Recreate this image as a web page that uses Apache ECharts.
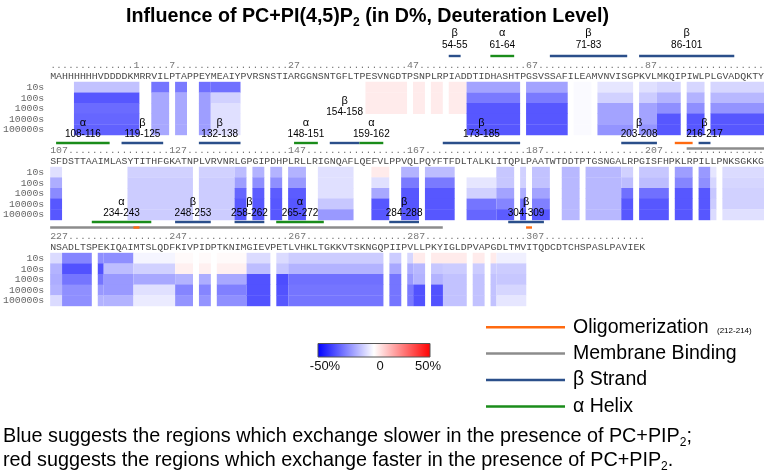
<!DOCTYPE html>
<html><head><meta charset="utf-8">
<script src="https://cdn.jsdelivr.net/npm/echarts@6/dist/echarts.min.js"></script>
<style>html,body{margin:0;padding:0;background:#fff}#c{width:767px;height:473px}</style>
</head><body><div id="c"></div>
<script>
// ---------------- DATA ----------------
const timeLabels = ['10s', '100s', '1000s', '10000s', '100000s'];
const seqRows = [
  'MAHHHHHHVDDDDKMRRVILPTAPPEYMEAIYPVRSNSTIARGGNSNTGFLTPESVNGDTPSNPLRPIADDTIDHASHTPGSVSSAFILEAMVNVISGPKVLMKQIPIWLPLGVADQKTY',
  'SFDSTTAAIMLASYTITHFGKATNPLVRVNRLGPGIPDHPLRLLRIGNQAFLQEFVLPPVQLPQYFTFDLTALKLITQPLPAATWTDDTPTGSNGALRPGISFHPKLRPILLPNKSGKKG',
  'NSADLTSPEKIQAIMTSLQDFKIVPIDPTKNIMGIEVPETLVHKLTGKKVTSKNGQPIIPVLLPKYIGLDPVAPGDLTMVITQDCDTCHSPASLPAVIEK'
];
const rowFirstResidue = [-13, 107, 227];
const rowTickResidues = [[1, 7, 27, 47, 67, 87], [107, 127, 147, 167, 187, 207], [227, 247, 267, 287, 307]];

// peptides: residue ranges (displayed numbering) and D% differences at 10s..100000s
const pepRanges = [
  [-9, 1], [4, 6], [8, 9], [12, 13], [14, 18], [40, 46], [48, 49], [51, 52], [54, 56],
  [57, 65], [67, 73], [75, 77], [79, 84], [86, 88], [89, 92], [94, 96], [98, 106],
  [107, 108], [120, 130], [132, 137], [138, 139], [141, 142], [144, 145], [147, 149],
  [152, 157], [161, 163], [166, 168], [170, 174], [177, 181], [182, 184], [186, 186],
  [188, 190], [193, 195], [197, 202], [203, 204], [206, 210], [212, 214], [216, 217],
  [218, 218], [220, 226],
  [227, 228], [229, 233], [235, 235], [236, 240], [241, 247], [248, 250], [252, 253],
  [255, 259], [260, 263], [265, 266], [267, 282], [284, 285], [287, 287], [288, 289],
  [291, 292], [293, 296], [298, 299], [301, 301], [302, 306]
];
const pepDeltas = [
  [-12, -33, -29, -30, -31], [-27, -17, -17, -17, -17], [-26, -17, -17, -17, -17], [-28, -19, -19, -19, -19],
  [-28, -9, -6, -6, -6], [4, 4, 4, null, null], [4, 4, 4, null, null], [4, 4, 4, null, null], [4, 4, 4, null, null],
  [-18, -26, -33, -33, -33], [-18, -26, -33, -33, -33], [-1, -1, -1, -1, -1], [-5, -9, -18, -18, -21],
  [-6, -10, -18, -18, -21], [-8, -15, -22, -33, -33], [-8, -15, -22, -33, -33], [-8, -14, -21, -33, -33],
  [-6, -16, -23, -33, -33], [-9, -10, -10, -10, -10], [-9, -10, -10, -10, -10], [-13, -19, -30, -33, -33],
  [-15, -22, -32, -33, -33], [-15, -22, -32, -33, -33], [-15, -20, -32, -33, -33],
  [-6, -6, -6, -11, -20], [4, -6, -17, -33, -33], [-15, -26, -33, -33, -33], [-13, -26, -33, -33, -33],
  [null, -5, -9, -27, -30], [-11, -11, -18, -24, -32], [-9, -9, -16, -28, -33],
  [-12, -12, -18, -25, -33], [-14, -14, -14, -14, -14], [-14, -14, -14, -14, -14], [-9, -13, -28, -33, -33],
  [-11, -13, -28, -33, -33], [-19, -24, -33, -33, -33], [-20, -22, -33, -33, -33],
  [-5, -8, -11, -10, -7], [-7, -8, -9, -9, -6],
  [-7, -15, -16, -15, -7], [-24, -34, -27, -22, -22], [-22, -34, -27, -20, -15], [-22, -13, -20, -20, -15],
  [-2, -9, -17, -6, -4], [1, 3, -15, -24, -21], [1, 3, -16, -24, -21],
  [1, 3, -17, -25, -22], [-7, -13, -34, -34, -34], [-7, -11, -35, -34, -33], [-10, -15, -28, -27, -27],
  [-10, -17, -27, -27, -27], [-8, -16, -20, -26, -26], [4, -14, -15, -34, -34],
  [4, -11, -15, -34, -34], [4, -10, -12, -12, -12], [4, -10, -12, -12, -12], [4, -10, -12, -12, -12],
  [-3, -10, -11, -8, -5]
];

// secondary structure annotations
const strandTop = [[54, 55], [71, 83], [86, 101]];          // displayed numbering
const helixTop = [[61, 64]];
const structOffset = 120;                                     // structural numbering = displayed + 120
const helixStruct = [[108, 116], [148, 151], [159, 162], [234, 243], [265, 272]];
const strandStruct = [[119, 125], [132, 138], [154, 158], [173, 185], [203, 208], [216, 217],
                      [248, 253], [258, 262], [284, 288], [304, 309]];
const membraneStruct = [[214, 292]];
const oligoStruct = [[212, 214], [241, 241], [307, 307]];

const legendNames = ['Oligomerization', 'Membrane Binding', 'β Strand', 'α Helix'];
const scaleTicks = ['-50%', '0', '50%'];

// ---------------- LAYOUT / STYLE ----------------
const CW = 5.96, LEFT = 49.3, HEAT_TOP = [82, 167, 253], HEAT_H = 53;
const STRUCT_GAP = [8, 2, 8];
const MONO = '"Liberation Mono", "Courier New", monospace';
const SANS = '"Liberation Sans", Arial, Helvetica, sans-serif';
const KIND_COLOR = { oligo: '#ff6a10', membrane: '#8c8c8c', beta: '#2b4f8a', alpha: '#1a8c1a' };
const SCALE_COLORS = ['#0000ff', '#ffffff', '#ff0000'];

function rowOf(res) { for (let r = 2; r >= 0; r--) if (res >= rowFirstResidue[r]) return r; return 0; }

// annotations split by row
const annos = [[], [], []];
function addRange(from, to, kind, lane, sym, label) {
  for (let r = 0; r < 3; r++) {
    const rs = rowFirstResidue[r], re = rs + seqRows[r].length - 1;
    const s = Math.max(from, rs), e = Math.min(to, re);
    if (s <= e) annos[r].push({ row: r, s: s - rs, e: e - rs, kind, lane, sym, label, level: 0 });
  }
}
membraneStruct.forEach(([a, b]) => addRange(a - structOffset, b - structOffset, 'membrane', 'mem', null, null));
oligoStruct.forEach(([a, b]) => {
  const memStart = membraneStruct[0][0];
  const lane = (a <= memStart && b >= memStart) ? 'struct' : 'mem';
  addRange(a - structOffset, b - structOffset, 'oligo', lane, null, null);
});
strandTop.forEach(([a, b]) => addRange(a, b, 'beta', 'top', 'β', a + '-' + b));
helixTop.forEach(([a, b]) => addRange(a, b, 'alpha', 'top', 'α', a + '-' + b));
strandStruct.forEach(([a, b]) => addRange(a - structOffset, b - structOffset, 'beta', 'struct', 'β', a + '-' + b));
helixStruct.forEach(([a, b]) => addRange(a - structOffset, b - structOffset, 'alpha', 'struct', 'α', a + '-' + b));

// stack colliding labels
annos.forEach(list => {
  const lab = list.filter(a => a.label && a.lane === 'struct')
    .map(a => ({ a, cx: LEFT + ((a.s + a.e) / 2 + 0.5) * CW, w: a.label.length * 5.6 + 4 }))
    .sort((p, q) => q.cx - p.cx);
  const placed = [];
  lab.forEach(p => {
    let level = 0;
    while (placed.some(o => o.level === level && Math.abs(o.cx - p.cx) < (o.w + p.w) / 2)) level++;
    p.level = level; p.a.level = level; placed.push(p);
  });
});

// heat cells per row
const heatData = [[], [], []];
pepRanges.forEach(([a, b], i) => {
  const r = rowOf(a);
  pepDeltas[i].forEach((v, t) => {
    if (v !== null) heatData[r].push([a - rowFirstResidue[r], b - rowFirstResidue[r], t, v]);
  });
});

function dotChars(r) {
  const n = seqRows[r].length, arr = new Array(n).fill('.');
  rowTickResidues[r].forEach(t => {
    const s = String(t), i0 = t - rowFirstResidue[r];
    for (let k = 0; k < s.length; k++) if (i0 + k < n) arr[i0 + k] = s[k];
  });
  return arr;
}

function heatRender(params, api) {
  const s = api.value(0), e = api.value(1), t = api.value(2);
  const band = api.size([1, 1]);
  const p0 = api.coord([s, t]), p1 = api.coord([e, t]);
  return {
    type: 'rect',
    shape: { x: p0[0] - band[0] / 2, y: p0[1] - band[1] / 2 - 0.2, width: p1[0] - p0[0] + band[0], height: band[1] + 0.4 },
    style: { fill: api.visual('color') }
  };
}
function annoRender(list) {
  return function (params, api) {
    const a = list[params.dataIndex];
    const band = api.size([1, 0])[0];
    const x1 = api.coord([a.s, 0])[0] - band / 2;
    const x2 = api.coord([a.e, 0])[0] + band / 2;
    const cs = params.coordSys;
    let y;
    if (a.lane === 'top') y = cs.y - 26;
    else if (a.lane === 'struct') y = cs.y + cs.height + STRUCT_GAP[a.row];
    else y = cs.y + cs.height + STRUCT_GAP[a.row] + 5.5;
    const children = [{ type: 'line', shape: { x1, y1: y, x2, y2: y }, style: { stroke: KIND_COLOR[a.kind], lineWidth: 2.4 } }];
    if (a.label) {
      const cx = (x1 + x2) / 2, dy = a.level * 22, top = a.lane === 'top';
      children.push({ type: 'text', style: { text: a.sym, x: cx, y: y - (top ? 23 : 20) - dy, align: 'center', verticalAlign: 'middle', fontSize: 11, fontFamily: SANS, fill: '#000' } });
      children.push({ type: 'text', style: { text: a.label, x: cx, y: y - (top ? 11 : 8.5) - dy, align: 'center', verticalAlign: 'middle', fontSize: 10, fontFamily: SANS, fill: '#000' } });
    }
    return { type: 'group', children };
  };
}

const grids = [], xAxes = [], yAxes = [], series = [];
for (let r = 0; r < 3; r++) {
  const n = seqRows[r].length;
  grids.push({ left: LEFT, top: HEAT_TOP[r], width: n * CW, height: HEAT_H });
  const hidden = { axisLine: { show: false }, axisTick: { show: false }, splitLine: { show: false } };
  xAxes.push(Object.assign({ type: 'category', gridIndex: r, data: seqRows[r].split(''), position: 'top', boundaryGap: true,
    axisLabel: { interval: 0, margin: 1, fontFamily: MONO, fontSize: 9.9, color: '#4a4a4a' } }, hidden));
  xAxes.push(Object.assign({ type: 'category', gridIndex: r, data: dotChars(r), position: 'top', boundaryGap: true, offset: 10.5,
    axisLabel: { interval: 0, margin: 1, fontFamily: MONO, fontSize: 9.9, color: '#777' } }, hidden));
  yAxes.push(Object.assign({ type: 'category', gridIndex: r, data: timeLabels, inverse: true,
    axisLabel: { interval: 0, margin: 6, fontFamily: MONO, fontSize: 9.8, color: '#666' } }, hidden));
}
for (let r = 0; r < 3; r++) {
  series.push({ type: 'custom', name: 'heat' + r, xAxisIndex: 2 * r, yAxisIndex: r, data: heatData[r],
    encode: { x: [0, 1], y: 2 }, renderItem: heatRender, silent: true });
}
for (let r = 0; r < 3; r++) {
  series.push({ type: 'custom', name: 'anno' + r, xAxisIndex: 2 * r, yAxisIndex: r, clip: false,
    data: annos[r].map(a => [a.s, a.e, 0]), encode: { x: [0, 1], y: 2 }, renderItem: annoRender(annos[r]), silent: true, z: 5 });
}

// legend & notes graphics
const graphic = [];
graphic.push({ type: 'rect', shape: { x: 318, y: 343.5, width: 112, height: 13.5 },
  style: { fill: new echarts.graphic.LinearGradient(0, 0, 1, 0, SCALE_COLORS.map((c, i) => ({ offset: i / (SCALE_COLORS.length - 1), color: c }))), stroke: '#555', lineWidth: 1 } });
[325, 380, 428].forEach((x, i) => graphic.push({ type: 'text', style: { text: scaleTicks[i], x, y: 366, align: 'center', verticalAlign: 'middle', fontSize: 13, fontFamily: SANS, fill: '#111' } }));
const legKinds = ['oligo', 'membrane', 'beta', 'alpha'];
const legY = [327.3, 353.5, 380, 406.5];
legKinds.forEach((k, i) => {
  graphic.push({ type: 'line', shape: { x1: 486, y1: legY[i], x2: 565, y2: legY[i] }, style: { stroke: KIND_COLOR[k], lineWidth: 2.4 } });
  graphic.push({ type: 'text', style: { text: legendNames[i], x: 573, y: legY[i], verticalAlign: 'middle', fontSize: 19.5, fontFamily: SANS, fill: '#000' } });
});
graphic.push({ type: 'text', style: { text: '(' + oligoStruct[0][0] + '-' + oligoStruct[0][1] + ')', x: 717, y: legY[0] + 3, verticalAlign: 'middle', fontSize: 8, fontFamily: SANS, fill: '#000' } });
const noteRich = { a: { fontSize: 19.8, fontFamily: SANS, fill: '#000', lineHeight: 24, verticalAlign: 'middle' },
                   s: { fontSize: 12, fontFamily: SANS, fill: '#000', lineHeight: 12, verticalAlign: 'bottom' } };
graphic.push({ type: 'text', style: { text: '{a|Blue suggests the regions which exchange slower in the presence of PC+PIP}{s|2}{a|;}', x: 3, y: 437, verticalAlign: 'middle', rich: noteRich } });
graphic.push({ type: 'text', style: { text: '{a|red suggests the regions which exchange faster in the presence of PC+PIP}{s|2}{a|.}', x: 3, y: 461, verticalAlign: 'middle', rich: noteRich } });

const chart = echarts.init(document.getElementById('c'), null, { renderer: 'canvas' });
chart.setOption({
  animation: false,
  backgroundColor: '#fff',
  title: {
    text: '{a|Influence of PC+PI(4,5)P}{s|2}{a| (in D%, Deuteration Level)}',
    left: 121, top: 0,
    textStyle: { rich: {
      a: { fontSize: 19.7, fontWeight: 'bold', fontFamily: SANS, color: '#000', lineHeight: 24, verticalAlign: 'middle' },
      s: { fontSize: 12, fontWeight: 'bold', fontFamily: SANS, color: '#000', lineHeight: 12, verticalAlign: 'bottom' } } }
  },
  grid: grids, xAxis: xAxes, yAxis: yAxes,
  visualMap: { type: 'continuous', show: false, min: -50, max: 50, dimension: 3, seriesIndex: [0, 1, 2], inRange: { color: SCALE_COLORS } },
  tooltip: { show: false },
  series,
  graphic
});
</script></body></html>
